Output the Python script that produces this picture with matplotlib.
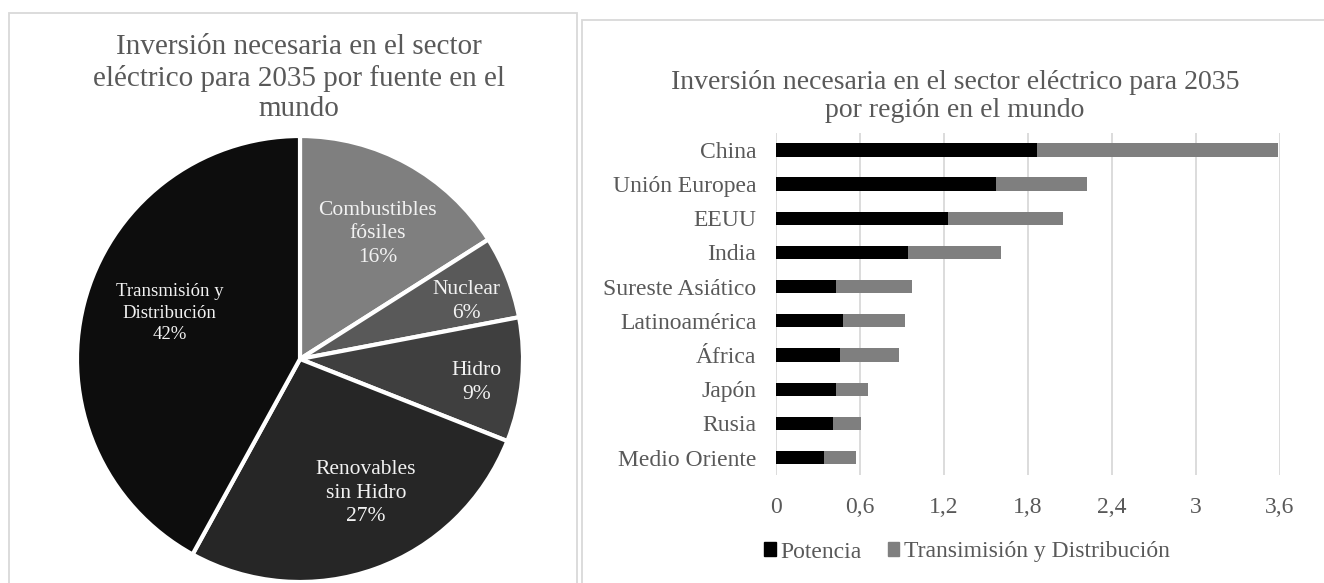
import numpy as np
import matplotlib
matplotlib.use("Agg")
import matplotlib.pyplot as plt
from matplotlib.patches import Rectangle, Patch

plt.rcParams['font.family'] = ['Liberation Serif', 'DejaVu Serif']

# datos del grafico circular (por fuente)
fuentes = ['Combustibles\nfósiles', 'Nuclear', 'Hidro', 'Renovables\nsin Hidro',
           'Transmisión y\nDistribución']
porcentajes = [16, 6, 9, 27, 42]
colores_pie = ['#7f7f7f', '#595959', '#3f3f3f', '#262626', '#0d0d0d']

# datos de barras (por region), de arriba hacia abajo
regiones = ['China', 'Unión Europea', 'EEUU', 'India', 'Sureste Asiático',
            'Latinoamérica', 'África', 'Japón', 'Rusia', 'Medio Oriente']
potencia = [1.866, 1.571, 1.231, 0.943, 0.431, 0.481, 0.459, 0.431, 0.409, 0.345]
transmision = [1.721, 0.655, 0.821, 0.668, 0.545, 0.440, 0.420, 0.230, 0.202, 0.226]
ticks_x = [0, 0.6, 1.2, 1.8, 2.4, 3, 3.6]
tick_labels = ['0', '0,6', '1,2', '1,8', '2,4', '3', '3,6']

gris_texto = '#595959'
W, H = 1324, 583

fig = plt.figure(figsize=(W / 100, H / 100), dpi=100)

# marcos de los dos graficos
fig.patches.append(Rectangle((9 / W, -0.02), (577 - 9) / W, 1 - 13 / H + 0.02,
                             transform=fig.transFigure, fill=False,
                             edgecolor='#d9d9d9', linewidth=1.3))
fig.patches.append(Rectangle((582 / W, -0.02), 0.6, 1 - 20 / H + 0.02,
                             transform=fig.transFigure, fill=False,
                             edgecolor='#d9d9d9', linewidth=1.3))

# ---- grafico circular ----
ax1 = fig.add_axes([77 / W, 1 / H, 446 / W, 446 / H])
wedges, _ = ax1.pie(porcentajes, colors=colores_pie, startangle=90, counterclock=False,
                    wedgeprops=dict(edgecolor='white', linewidth=3))
ax1.set_aspect('equal')
ax1.set_xlim(-1, 1)
ax1.set_ylim(-1, 1)

# posicion de etiquetas: fraccion del radio y desplazamiento angular
dist = [0.66, 0.79, 0.80, 0.67, 0.62]
desp = [-3, -2.6, -2.3, 6.4, -5]
tam = [15.5, 15.5, 15.5, 15.5, 13.5]
for w, nombre, p, d, a, s in zip(wedges, fuentes, porcentajes, dist, desp, tam):
    ang = np.deg2rad((w.theta1 + w.theta2) / 2 + a)
    ax1.text(d * np.cos(ang), d * np.sin(ang), f'{nombre}\n{p}%', ha='center',
             va='center', color='#f2f2f2', fontsize=s, linespacing=1.35)

fig.text(299 / W, 1 - 78 / H,
         'Inversión necesaria en el sector\neléctrico para 2035 por fuente en el\nmundo',
         ha='center', va='center', fontsize=21, color=gris_texto, linespacing=1.23)

# ---- grafico de barras ----
ax2 = fig.add_axes([775.7 / W, 1 - 474.6 / H, 504 / W, (474.6 - 132.9) / H])
y = np.arange(len(regiones))
ax2.barh(y, potencia, height=0.39, color='black', label='Potencia')
ax2.barh(y, transmision, left=potencia, height=0.39, color='#7f7f7f',
         label='Transimisión y Distribución')
ax2.set_ylim(len(regiones) - 0.5, -0.5)
ax2.set_xlim(0, 3.6)
ax2.set_yticks(y)
ax2.set_yticklabels(regiones)
ax2.set_xticks(ticks_x)
ax2.set_xticklabels(tick_labels)
ax2.tick_params(axis='y', length=0, pad=14, labelsize=17, labelcolor=gris_texto)
ax2.tick_params(axis='x', length=0, pad=16, labelsize=17, labelcolor=gris_texto)
ax2.grid(axis='x', color='#d9d9d9', linewidth=1.3)
ax2.set_axisbelow(True)
for sp in ax2.spines.values():
    sp.set_visible(False)

fig.text(955 / W, 1 - 96.5 / H,
         'Inversión necesaria en el sector eléctrico para 2035\npor región en el mundo',
         ha='center', va='center', fontsize=20, color=gris_texto, linespacing=1.17)

handles = [Patch(color='black'), Patch(color='#7f7f7f')]
fig.legend(handles, ['Potencia', 'Transimisión y Distribución'], loc='center',
           bbox_to_anchor=(967 / W, 1 - 552 / H), ncol=2, frameon=False,
           fontsize=17, labelcolor=gris_texto, handlelength=0.5, handleheight=0.5,
           handletextpad=0.2, columnspacing=1.1)

fig.savefig('out.png', dpi=100)
